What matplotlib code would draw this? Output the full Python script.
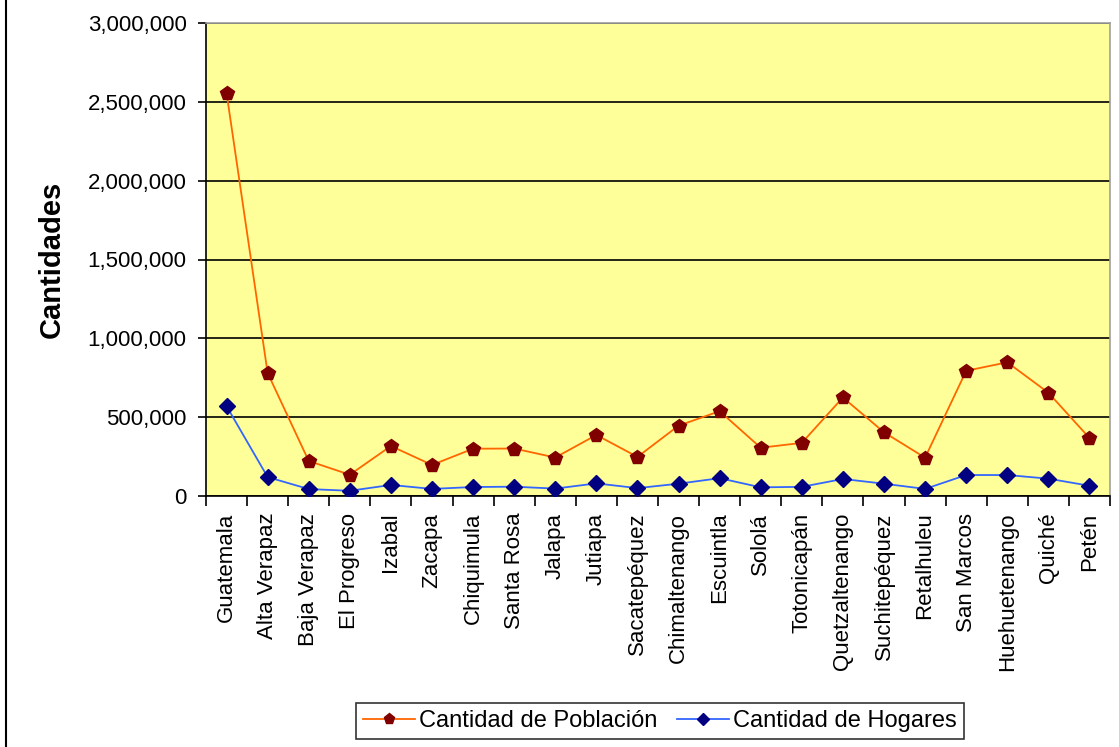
import matplotlib
matplotlib.use("Agg")
import matplotlib.pyplot as plt
from matplotlib.ticker import FuncFormatter, FixedLocator

plt.rcParams["font.family"] = ["Liberation Sans", "DejaVu Sans"]

departamentos = ["Guatemala", "Alta Verapaz", "Baja Verapaz", "El Progreso", "Izabal",
                 "Zacapa", "Chiquimula", "Santa Rosa", "Jalapa", "Jutiapa",
                 "Sacatepéquez", "Chimaltenango", "Escuintla", "Sololá", "Totonicapán",
                 "Quetzaltenango", "Suchitepéquez", "Retalhuleu", "San Marcos",
                 "Huehuetenango", "Quiché", "Petén"]

poblacion = [2556000, 780000, 222000, 135000, 317000, 197000, 300000, 301000,
             244000, 387000, 248000, 446000, 538000, 306000, 337000, 625000,
             404000, 243000, 794000, 848000, 655000, 368000]

hogares = [570000, 120000, 44000, 33000, 70000, 45000, 57000, 59000, 47000, 80000,
           50000, 78000, 113000, 55000, 58000, 108000, 78000, 45000, 133000, 133000,
           110000, 65000]

fig = plt.figure(figsize=(11.19, 7.47), dpi=100)
ax = fig.add_axes([206 / 1119, 1 - 496 / 747, 904 / 1119, 473 / 747])
ax.set_facecolor("#FFFF99")

x = list(range(len(departamentos)))
ax.plot(x, poblacion, color="#FF6600", lw=1.3, marker="p", ms=10,
        mfc="#800000", mec="#800000", label="Cantidad de Población", zorder=3)
ax.plot(x, hogares, color="#3366FF", lw=1.3, marker="D", ms=8,
        mfc="#000080", mec="#000080", label="Cantidad de Hogares", zorder=3)

ax.set_xlim(-0.5, len(departamentos) - 0.5)
ax.set_ylim(0, 3000000)
ax.set_yticks(range(0, 3000001, 500000))
ax.yaxis.set_major_formatter(FuncFormatter(lambda v, p: f"{int(v):,}"))
ax.yaxis.grid(True, color="black", lw=1.2)
ax.set_axisbelow(True)

# ticks between categories, labels centred on each category
ax.xaxis.set_major_locator(FixedLocator([i - 0.5 for i in range(len(departamentos) + 1)]))
ax.xaxis.set_major_formatter(FuncFormatter(lambda v, p: ""))
ax.set_xticks(x, minor=True)
ax.set_xticklabels(departamentos, minor=True, rotation=90, fontsize=16)
ax.tick_params(axis="x", which="major", length=7, width=1.2, direction="out")
ax.tick_params(axis="x", which="minor", length=0, pad=12)
ax.tick_params(axis="y", length=6, width=1.2, labelsize=16, pad=8)

for s in ["top", "right"]:
    ax.spines[s].set_color("#A0A0A0")
    ax.spines[s].set_linewidth(1.2)
for s in ["left", "bottom"]:
    ax.spines[s].set_color("black")
    ax.spines[s].set_linewidth(1.2)

ax.set_ylabel("Cantidades", fontsize=21, fontweight="bold")
ax.yaxis.set_label_coords(-0.155, 0.5)

leg = fig.legend(loc="center", bbox_to_anchor=(660 / 1119, 1 - 721 / 747), ncol=2,
                 fontsize=17, frameon=True, fancybox=False, edgecolor="black",
                 handlelength=2.2, columnspacing=0.8, handletextpad=0.2,
                 borderpad=0.3, markerscale=0.8)
leg.get_frame().set_linewidth(1.2)

fig.add_artist(plt.Line2D([6 / 1119, 6 / 1119], [0, 1], color="black", lw=1.5))

fig.savefig("out.png", dpi=100)
